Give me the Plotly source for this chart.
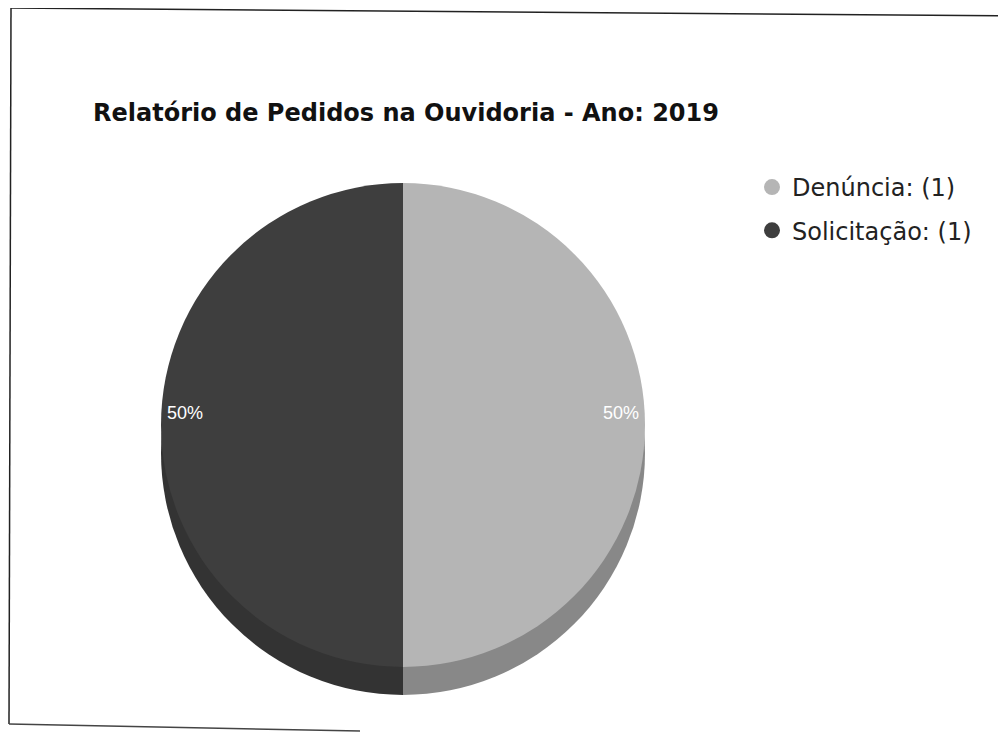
import math
import plotly.graph_objects as go

# ---- data ----
categories = ["Denúncia", "Solicitação"]
values = [1, 1]
title_text = "Relatório de Pedidos na Ouvidoria - Ano: 2019"

# ---- styles ----
top_colors = ["#b5b5b5", "#3e3e3e"]
side_colors = ["#888888", "#333333"]
W, H = 1006, 732
OFF = 8  # page body margin
cx, cy, r = 403, 425, 242
depth = 28


def px_x(x):
    return (x - OFF) / W


def px_y(y):
    return 1 - (y - OFF) / H


fig = go.Figure()

# side (3D rim) pie, shifted down
fig.add_trace(go.Pie(
    labels=categories, values=values, sort=False, direction="clockwise", rotation=0,
    marker=dict(colors=side_colors, line=dict(width=0)),
    textinfo="none", hoverinfo="skip", showlegend=False,
    domain=dict(x=[px_x(cx - r), px_x(cx + r)], y=[px_y(cy + depth + r), px_y(cy + depth - r)]),
))
# top face
fig.add_trace(go.Pie(
    labels=categories, values=values, sort=False, direction="clockwise", rotation=0,
    marker=dict(colors=top_colors, line=dict(width=0)),
    textinfo="none", showlegend=False,
    domain=dict(x=[px_x(cx - r), px_x(cx + r)], y=[px_y(cy + r), px_y(cy - r)]),
))

# legend entries with circle symbols
for cat, val, col in zip(categories, values, top_colors):
    fig.add_trace(go.Scatter(
        x=[None], y=[None], mode="markers", name=f"{cat}: ({val})",
        marker=dict(symbol="circle", size=20, color=col), legendgroup=cat,
    ))

# percentage labels, positioned from slice mid-angles
total = sum(values)
start = 0.0
annotations = []
for v in values:
    frac = v / total
    mid = (start + frac / 2) * 2 * math.pi
    start += frac
    lx = cx + 0.9 * r * math.sin(mid)
    ly = cy - 0.9 * r * math.cos(mid) - 12
    annotations.append(dict(
        x=px_x(lx), y=px_y(ly), xref="paper", yref="paper", showarrow=False,
        xanchor="center", yanchor="middle",
        text=f"{frac * 100:.0f}%", font=dict(family="Liberation Sans, Arial", size=18, color="white"),
    ))

fig.update_layout(
    width=W, height=H,
    margin=dict(l=0, r=0, t=0, b=0),
    paper_bgcolor="white", plot_bgcolor="white",
    xaxis=dict(visible=False), yaxis=dict(visible=False),
    title=dict(text=f"<b>{title_text}</b>", x=px_x(93), xanchor="left", y=px_y(113), yanchor="middle",
               font=dict(family="DejaVu Sans", size=24, color="#111")),
    legend=dict(x=px_x(752), y=px_y(165), xanchor="left", yanchor="top",
                font=dict(family="DejaVu Sans", size=24, color="#222"),
                tracegroupgap=9, bgcolor="rgba(0,0,0,0)"),
    annotations=annotations,
    shapes=[
        dict(type="line", xref="paper", yref="paper", x0=px_x(11), y0=px_y(8), x1=px_x(1014), y1=px_y(16),
             line=dict(color="#222", width=1.5)),
        dict(type="line", xref="paper", yref="paper", x0=px_x(11), y0=px_y(8), x1=px_x(9), y1=px_y(724),
             line=dict(color="#222", width=1.5)),
        dict(type="line", xref="paper", yref="paper", x0=px_x(9), y0=px_y(724), x1=px_x(360), y1=px_y(731),
             line=dict(color="#444", width=1.5)),
    ],
)

fig.write_html("out.html")
